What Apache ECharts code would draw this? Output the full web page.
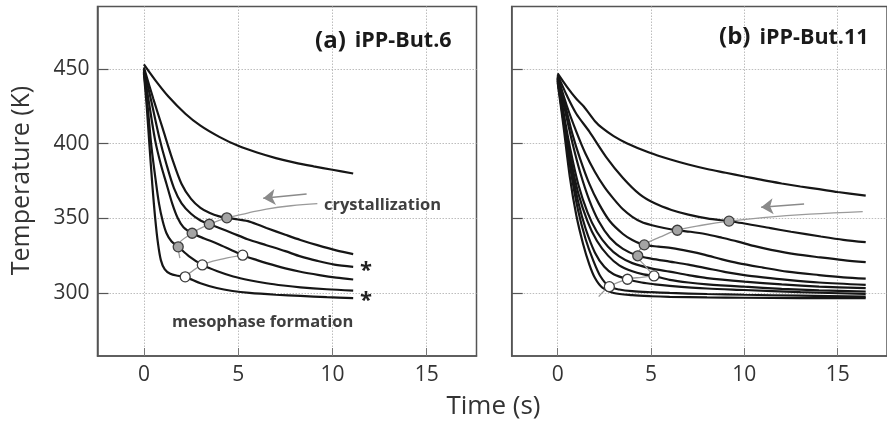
<!DOCTYPE html>
<html>
<head>
<meta charset="utf-8">
<script src="https://cdn.jsdelivr.net/npm/echarts@6/dist/echarts.min.js"></script>
<style>
  html, body { margin: 0; padding: 0; background: #fff; }
  #chart { width: 887px; height: 424px; }
</style>
</head>
<body>
<div id="chart"></div>
<script>
// x ticks and y ticks shared by both panels
const xTicks = [0, 5, 10, 15];
const yTicks = [300, 350, 400, 450];

// panel (a) iPP-But.6 cooling curves, [time s, temperature K]
const a1 = [[0,453],[0.6,442.5],[1.3,431.5],[2.2,420],[3,412],[4,404.5],[5,398.5],[6,394],[7,390.3],[8,387.3],[9,384.8],[10,382.5],[11.1,380]];
const a2 = [[0,451],[0.5,430],[1,410],[1.5,390],[2,373],[2.5,363],[3,357],[3.5,353.5],[4,351.3],[4.4,350.3],[5,349.2],[5.6,347.8],[6.5,343.5],[7.5,339],[8.3,335.5],[9.2,332],[10.2,328.5],[11.1,326]];
const a3 = [[0,450],[0.4,428],[0.8,405],[1.2,386],[1.6,370],[2,360],[2.5,353],[3,348.5],[3.47,346],[4,343.5],[4.7,340],[5.5,336],[6.5,332],[7.5,328],[8.3,324.5],[9.2,321.5],[10.1,319],[11.1,317.5]];
const a4 = [[0,449],[0.3,425],[0.6,402],[0.9,386],[1.2,373],[1.5,360],[1.8,350],[2.1,344],[2.56,340],[3.2,336.5],[3.9,333],[4.6,329],[5.24,325.3],[6,322],[6.5,320],[7.5,316.5],[8.3,314.2],[9.3,312],[10.2,310.3],[11.1,309]];
const a5 = [[0,448],[0.2,425],[0.4,398],[0.62,376],[0.8,360],[1,348],[1.2,340],[1.47,334.4],[1.82,330.9],[2.4,324.5],[3.1,318.8],[3.9,314.5],[4.74,311],[5.6,308.5],[6.5,306.5],[7.4,305],[8.3,303.8],[9.7,302.5],[11.1,301.6]];
const a6 = [[0,447],[0.15,425],[0.3,398],[0.45,372],[0.6,350],[0.75,333],[0.9,322],[1.1,316],[1.4,312.8],[1.8,311.5],[2.19,310.8],[3,306.5],[3.86,303.3],[4.7,301.3],[5.6,300],[7,298.8],[8.3,298],[9.7,297.2],[11.1,296.5]];

// panel (b) iPP-But.11 cooling curves
const b1 = [[0,447],[0.5,438],[1,430],[1.4,424.8],[2,415],[2.4,410.3],[3,405],[3.7,400.3],[4.9,394],[6,389.5],[7,386],[8,383],[9,380.5],[10,378],[11,375.5],[12,373.3],[13,371.3],[14,369.5],[15,367.6],[16.5,365.2]];
const b2 = [[0,446],[0.5,432],[1,420],[1.7,408],[2.6,391],[3.5,377],[4.4,366],[5.2,360],[6.1,355.6],[7,352.5],[8,350],[9.18,348],[10,346.5],[11.4,343.4],[12.5,341],[14.1,337.8],[15.3,335.6],[16.5,334]];
const b3 = [[0,445],[0.5,425],[1,408],[1.5,393],[2,381],[2.5,371],[3,363],[3.5,356],[4,351],[4.5,347.5],[5,345.5],[5.7,343.5],[6.41,342],[7.1,341],[7.9,339.5],[8.8,337],[9.66,334.4],[10.5,331.5],[11.43,328.9],[12.7,326],[14.07,323.8],[15.3,322],[16.5,320.6]];
const b4 = [[0,445],[0.4,426],[0.8,406],[1.2,390],[1.7,373],[2.2,360],[2.8,348],[3.5,339.5],[4,335.5],[4.64,332.2],[5.4,331],[6.13,330],[7,328],[7.9,325.5],[8.8,322.5],[9.66,320],[11,317],[12.3,314.3],[14,312],[15.3,310.5],[16.5,309.6]];
const b5 = [[0,444],[0.4,422],[0.8,400],[1.2,381],[1.7,362],[2.2,348],[2.8,337],[3.5,329.5],[4.29,324.9],[5,323],[6,321],[7,319],[8,316.5],[9,314],[10,312],[11,310.5],[12.3,308.8],[14,307],[16.5,305.4]];
const b6 = [[0,444],[0.3,422],[0.7,395],[1.1,373],[1.6,354],[2.1,341],[2.7,331],[3.3,324.5],[4,320],[5,316.5],[6,314.3],[7,312],[8,310],[10,307.6],[12,305.7],[14,304.3],[16.5,303.2]];
const b7 = [[0,443],[0.3,420],[0.7,390],[1.1,367],[1.6,348],[2.1,335],[2.7,325],[3.3,318.5],[4,314.5],[4.6,312.5],[5.16,311.4],[6,308.8],[7,307],[8,305.8],[10,304.2],[12,302.8],[14,301.8],[16.5,301]];
const b8 = [[0,443],[0.3,418],[0.7,386],[1.1,361],[1.5,343],[2,327],[2.5,317.5],[3,312.5],[3.74,309.2],[4.5,307],[5.2,305.8],[6,304.8],[8,303],[10,302],[13,300.5],[16.5,299.4]];
const b9 = [[0,442],[0.3,416],[0.7,382],[1.1,355],[1.5,336],[1.9,322],[2.3,311],[2.77,304.2],[3.3,302.3],[4,301.2],[5,300.5],[6,300],[8,299.3],[10,298.8],[13,298.2],[16.5,297.6]];
const b10 = [[0,441],[0.3,413],[0.65,378],[1,352],[1.36,333],[1.7,319],[2,310],[2.4,303.5],[3,300],[4,298.5],[5,297.8],[6,297.4],[8,297],[10,296.8],[13,296.6],[16.5,296.5]];

// transition markers (grey = crystallization, white = mesophase formation)
const aCryst = [[1.82,330.9],[2.56,340],[3.47,346],[4.4,350.3]];
const aMeso = [[2.19,310.8],[3.1,318.8],[5.24,325.3]];
const bCryst = [[4.29,324.9],[4.64,332.2],[6.41,342],[9.18,348.1]];
const bMeso = [[2.77,304.2],[3.74,309.2],[5.16,311.4]];

// thin grey guide lines through the markers
const aCrystLine = [[1.91,323.3],[1.82,330.9],[2.56,340],[3.47,346],[4.4,350.3],[5.5,353.5],[6.5,356.2],[7.8,358.4],[9.2,359.8]];
const aMesoLine = [[2.19,310.8],[3.1,318.8],[4.2,322.8],[5.24,325.3]];
const bCrystLine = [[5.16,311.4],[4.7,318],[4.29,324.9],[4.64,332.2],[5.5,337.5],[6.41,342],[7.8,345.5],[9.18,348.1],[11,350.5],[13.5,352.8],[16.34,354.5]];
const bMesoLine = [[2.2,297.6],[2.77,304.2],[3.74,309.2],[4.5,310.5],[5.16,311.4]];

// arrows [from, to]
const aArrow = [[8.63,366.3],[6.33,363.4]];
const bArrow = [[13.2,359.6],[10.9,357.4]];

const FONT = 'Open Sans';

const curve = (data, idx) => ({
    type: 'line',
    data: data,
    xAxisIndex: idx,
    yAxisIndex: idx,
    smooth: 0.3,
    showSymbol: false,
    symbol: 'none',
    silent: true,
    z: 3,
    lineStyle: { color: '#161616', width: 2.2 }
});

const guide = (data, idx) => ({
    type: 'line',
    data: data,
    xAxisIndex: idx,
    yAxisIndex: idx,
    smooth: 0.4,
    showSymbol: false,
    symbol: 'none',
    silent: true,
    z: 4,
    lineStyle: { color: '#9a9a9a', width: 1.3 }
});

const arrow = (coords, idx) => ({
    type: 'lines',
    coordinateSystem: 'cartesian2d',
    xAxisIndex: idx,
    yAxisIndex: idx,
    silent: true,
    z: 4,
    symbol: ['none', 'arrow'],
    symbolSize: 12,
    lineStyle: { color: '#8a8a8a', width: 1.6, opacity: 1, curveness: 0 },
    data: [{ coords: coords }]
});

const dots = (data, idx, fill) => ({
    type: 'scatter',
    data: data,
    xAxisIndex: idx,
    yAxisIndex: idx,
    symbolSize: 10,
    silent: true,
    z: 5,
    itemStyle: { color: fill, borderColor: '#3c3c3c', borderWidth: 1.3, opacity: 1 }
});

const xAxisOpt = (idx) => ({
    type: 'value',
    gridIndex: idx,
    min: -2.46,
    max: 17.64,
    axisLine: { show: true, onZero: false, lineStyle: { color: '#555', width: 1.5 } },
    axisTick: { show: true, inside: true, length: 8, customValues: xTicks, lineStyle: { color: '#777', width: 1 } },
    axisLabel: { customValues: xTicks, fontFamily: FONT, fontSize: 21, color: '#333', margin: 9 },
    splitLine: { show: true, lineStyle: { color: '#bdbdbd', width: 1, type: [1.5, 1.5] } }
});

const yAxisOpt = (idx, labels) => ({
    type: 'value',
    gridIndex: idx,
    min: 257.8,
    max: 491.8,
    axisLine: { show: true, onZero: false, lineStyle: { color: '#555', width: 1.5 } },
    axisTick: { show: true, inside: true, length: 11, customValues: yTicks, lineStyle: { color: '#555', width: 1.2 } },
    axisLabel: { show: labels, customValues: yTicks, fontFamily: FONT, fontSize: 21, color: '#333', margin: 8 },
    splitLine: { show: true, lineStyle: { color: '#bdbdbd', width: 1, type: [1.5, 1.5] } }
});

const titleRich = {
    p: { fontFamily: FONT, fontWeight: 'bold', fontSize: 24, fill: '#1a1a1a' },
    n: { fontFamily: FONT, fontWeight: 'bold', fontSize: 21.5, fill: '#1a1a1a', padding: [0, 0, 0, 9] }
};

const chart = echarts.init(document.getElementById('chart'), null, { renderer: 'canvas' });

chart.setOption({
    backgroundColor: '#fff',
    animation: false,
    grid: [
        { left: 97.5, top: 6.5, width: 379, height: 349.5, show: true, borderColor: '#555', borderWidth: 1.5, backgroundColor: '#fff' },
        { left: 511.7, top: 6.5, width: 379, height: 349.5, show: true, borderColor: '#555', borderWidth: 1.5, backgroundColor: '#fff' }
    ],
    xAxis: [xAxisOpt(0), xAxisOpt(1)],
    yAxis: [yAxisOpt(0, true), yAxisOpt(1, false)],
    series: [
        curve(a1, 0), curve(a2, 0), curve(a3, 0), curve(a4, 0), curve(a5, 0), curve(a6, 0),
        curve(b1, 1), curve(b2, 1), curve(b3, 1), curve(b4, 1), curve(b5, 1),
        curve(b6, 1), curve(b7, 1), curve(b8, 1), curve(b9, 1), curve(b10, 1),
        guide(aCrystLine, 0), guide(aMesoLine, 0),
        guide(bCrystLine, 1), guide(bMesoLine, 1),
        arrow(aArrow, 0), arrow(bArrow, 1),
        dots(aCryst, 0, '#a4a4a4'), dots(aMeso, 0, '#ffffff'),
        dots(bCryst, 1, '#a4a4a4'), dots(bMeso, 1, '#ffffff')
    ],
    graphic: [
        {
            type: 'text', x: 22, y: 180.5, rotation: Math.PI / 2,
            style: { text: 'Temperature (K)', font: '25px "Open Sans"', fill: '#333', align: 'center', verticalAlign: 'middle' }
        },
        {
            type: 'text', x: 493.5, y: 407,
            style: { text: 'Time (s)', font: '26px "Open Sans"', fill: '#333', align: 'center', verticalAlign: 'middle' }
        },
        {
            type: 'text', x: 315, y: 41, z: 10,
            style: { text: '{p|(a)}{n|iPP-But.6}', verticalAlign: 'middle', rich: titleRich }
        },
        {
            type: 'text', x: 719, y: 37.5, z: 10,
            style: { text: '{p|(b)}{n|iPP-But.11}', verticalAlign: 'middle', rich: titleRich }
        },
        {
            type: 'text', x: 324, y: 205, z: 10,
            style: { text: 'crystallization', font: 'bold 16.5px "Open Sans"', fill: '#3f3f3f', verticalAlign: 'middle' }
        },
        {
            type: 'text', x: 172, y: 322, z: 10,
            style: { text: 'mesophase formation', font: 'bold 16.5px "Open Sans"', fill: '#3f3f3f', verticalAlign: 'middle' }
        },
        {
            type: 'text', x: 366, y: 271, z: 10,
            style: { text: '*', font: 'bold 22px "Open Sans"', fill: '#222', align: 'center', verticalAlign: 'middle' }
        },
        {
            type: 'text', x: 366, y: 301, z: 10,
            style: { text: '*', font: 'bold 22px "Open Sans"', fill: '#222', align: 'center', verticalAlign: 'middle' }
        }
    ]
});
</script>
</body>
</html>
